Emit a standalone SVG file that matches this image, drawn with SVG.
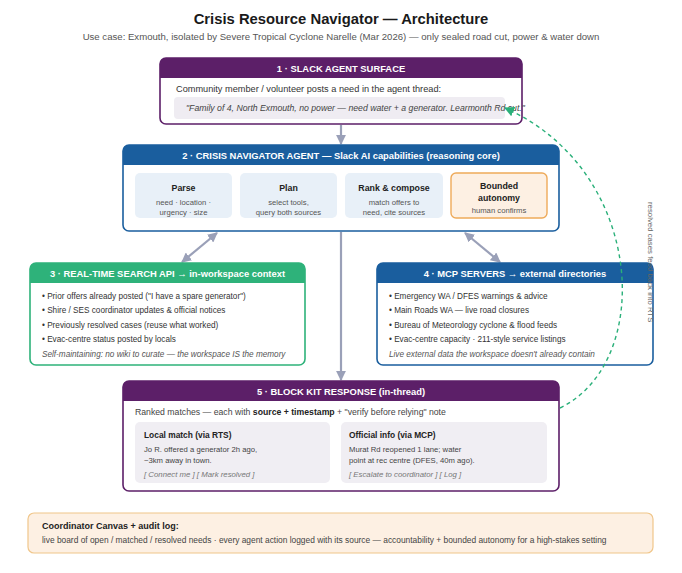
<svg xmlns="http://www.w3.org/2000/svg" width="682" height="573" viewBox="0 0 682 573">
<defs>
<style>
text{font-family:"Liberation Sans",Arial,sans-serif;}
.title{font-size:14.8px;font-weight:bold;fill:#1a1a1a;text-anchor:middle;}
.sub{font-size:9.6px;fill:#555;text-anchor:middle;}
.hdr{font-size:9.4px;font-weight:bold;fill:#fff;text-anchor:middle;}
.body{font-size:9.2px;fill:#333;}
.bul{font-size:8.2px;fill:#333;}
.note{font-size:8.2px;fill:#555;font-style:italic;}
.ct{font-size:8.8px;font-weight:bold;fill:#222;text-anchor:middle;}
.cs{font-size:7.7px;fill:#555;text-anchor:middle;}
.kt{font-size:8.4px;font-weight:bold;fill:#222;}
.ks{font-size:7.7px;fill:#444;}
.ka{font-size:7.8px;fill:#777;font-style:italic;}
.conn{stroke:#9aa0b8;stroke-width:2.2;fill:none;}
</style>
<marker id="ah" viewBox="0 0 10 10" refX="9" refY="5" markerWidth="4.5" markerHeight="4.5" orient="auto-start-reverse" markerUnits="strokeWidth">
<path d="M0,0 L10,5 L0,10 z" fill="#9aa0b8"/>
</marker>
<marker id="gh" viewBox="0 0 10 10" refX="9" refY="5" markerWidth="10" markerHeight="10" orient="auto" markerUnits="userSpaceOnUse">
<path d="M0,0 L10,5 L0,10 z" fill="#2bb07a"/>
</marker>
</defs>
<rect width="682" height="573" fill="#fff"/>
<text class="title" x="341" y="24">Crisis Resource Navigator — Architecture</text>
<text class="sub" x="341" y="40">Use case: Exmouth, isolated by Severe Tropical Cyclone Narelle (Mar 2026) — only sealed road cut, power &amp; water down</text>

<g id="connectors">
<line class="conn" x1="341" y1="125" x2="341" y2="144" marker-end="url(#ah)"/>
<line class="conn" x1="341" y1="232" x2="341" y2="380" marker-end="url(#ah)"/>
<line class="conn" x1="217" y1="233" x2="182" y2="262" marker-start="url(#ah)" marker-end="url(#ah)"/>
<line class="conn" x1="465" y1="233" x2="500" y2="262" marker-start="url(#ah)" marker-end="url(#ah)"/>
</g>

<g id="n1">
<rect x="160" y="58" width="362" height="66" rx="6" fill="#fff" stroke="#5c1f68" stroke-width="1.6"/>
<path d="M160,78 V64 a6,6 0 0 1 6,-6 H516 a6,6 0 0 1 6,6 V78 z" fill="#5c1f68"/>
<text class="hdr" x="341" y="72">1 · SLACK AGENT SURFACE</text>
<text class="body" x="176" y="92">Community member / volunteer posts a need in the agent thread:</text>
<rect x="174" y="97" width="331" height="22" rx="4" fill="#efecf2"/>
<text class="note" x="186" y="111" style="font-size:8.7px;fill:#444">"Family of 4, North Exmouth, no power — need water + a generator. Learmonth Rd cut."</text>
</g>

<g id="n2">
<rect x="123" y="145" width="436" height="86" rx="6" fill="#fff" stroke="#1a5e9e" stroke-width="1.6"/>
<path d="M123,165 V151 a6,6 0 0 1 6,-6 H553 a6,6 0 0 1 6,6 V165 z" fill="#1a5e9e"/>
<text class="hdr" x="341" y="159">2 · CRISIS NAVIGATOR AGENT — Slack AI capabilities (reasoning core)</text>
<rect x="135" y="173" width="97" height="45" rx="5" fill="#e8f0f8"/>
<text class="ct" x="183.5" y="191">Parse</text>
<text class="cs" x="183.5" y="205">need · location ·</text>
<text class="cs" x="183.5" y="215">urgency · size</text>
<rect x="240" y="173" width="97" height="45" rx="5" fill="#e8f0f8"/>
<text class="ct" x="288.5" y="191">Plan</text>
<text class="cs" x="288.5" y="205">select tools,</text>
<text class="cs" x="288.5" y="215">query both sources</text>
<rect x="345" y="173" width="98" height="45" rx="5" fill="#e8f0f8"/>
<text class="ct" x="394" y="191">Rank &amp; compose</text>
<text class="cs" x="394" y="205">match offers to</text>
<text class="cs" x="394" y="215">need, cite sources</text>
<rect x="451" y="173" width="96" height="45" rx="5" fill="#fdf0e3" stroke="#eeaa5a" stroke-width="1.4"/>
<text class="ct" x="499" y="189">Bounded</text>
<text class="ct" x="499" y="201">autonomy</text>
<text class="cs" x="499" y="213">human confirms</text>
</g>

<g id="n3">
<rect x="30" y="263" width="275" height="102" rx="6" fill="#fff" stroke="#2eb27a" stroke-width="1.6"/>
<path d="M30,283 V269 a6,6 0 0 1 6,-6 H299 a6,6 0 0 1 6,6 V283 z" fill="#2eb27a"/>
<text class="hdr" x="167.5" y="277">3 · REAL-TIME SEARCH API → in-workspace context</text>
<text class="bul" x="42" y="299">• Prior offers already posted ("I have a spare generator")</text>
<text class="bul" x="42" y="313">• Shire / SES coordinator updates &amp; official notices</text>
<text class="bul" x="42" y="328">• Previously resolved cases (reuse what worked)</text>
<text class="bul" x="42" y="342">• Evac-centre status posted by locals</text>
<text class="note" x="42" y="357">Self-maintaining: no wiki to curate — the workspace IS the memory</text>
</g>

<g id="n4">
<rect x="377" y="263" width="276" height="102" rx="6" fill="#fff" stroke="#1a5e9e" stroke-width="1.6"/>
<path d="M377,283 V269 a6,6 0 0 1 6,-6 H647 a6,6 0 0 1 6,6 V283 z" fill="#1a5e9e"/>
<text class="hdr" x="515" y="277">4 · MCP SERVERS → external directories</text>
<text class="bul" x="389" y="299">• Emergency WA / DFES warnings &amp; advice</text>
<text class="bul" x="389" y="313">• Main Roads WA — live road closures</text>
<text class="bul" x="389" y="328">• Bureau of Meteorology cyclone &amp; flood feeds</text>
<text class="bul" x="389" y="342">• Evac-centre capacity · 211-style service listings</text>
<text class="note" x="389" y="357">Live external data the workspace doesn't already contain</text>
</g>

<g id="n5">
<rect x="123" y="381" width="436" height="110" rx="6" fill="#fff" stroke="#5c1f68" stroke-width="1.6"/>
<path d="M123,401 V387 a6,6 0 0 1 6,-6 H553 a6,6 0 0 1 6,6 V401 z" fill="#5c1f68"/>
<text class="hdr" x="341" y="395">5 · BLOCK KIT RESPONSE (in-thread)</text>
<text class="body" x="135" y="415" style="fill:#444;font-size:8.7px">Ranked matches — each with <tspan font-weight="bold" fill="#222">source + timestamp</tspan> + "verify before relying" note</text>
<rect x="135" y="422" width="195" height="61" rx="5" fill="#f0eef3"/>
<text class="kt" x="144" y="438">Local match (via RTS)</text>
<text class="ks" x="144" y="452">Jo R. offered a generator 2h ago,</text>
<text class="ks" x="144" y="463">~3km away in town.</text>
<text class="ka" x="144" y="477">[ Connect me ] [ Mark resolved ]</text>
<rect x="341" y="422" width="206" height="61" rx="5" fill="#f0eef3"/>
<text class="kt" x="349" y="438">Official info (via MCP)</text>
<text class="ks" x="349" y="452">Murat Rd reopened 1 lane; water</text>
<text class="ks" x="349" y="463">point at rec centre (DFES, 40m ago).</text>
<text class="ka" x="349" y="477">[ Escalate to coordinator ] [ Log ]</text>
</g>

<g id="n6">
<rect x="28" y="513" width="625" height="40" rx="6" fill="#fdf0e3" stroke="#f0c68a" stroke-width="1.2"/>
<text class="kt" x="42" y="529" style="font-size:9px">Coordinator Canvas + audit log:</text>
<text class="ks" x="42" y="543" style="font-size:8.4px">live board of open / matched / resolved needs · every agent action logged with its source — accountability + bounded autonomy for a high-stakes setting</text>
</g>

<g id="feedback">
<path d="M560,408 C655,362 645,170 505,108" fill="none" stroke="#2bb07a" stroke-width="1.4" stroke-dasharray="4,3.5" marker-end="url(#gh)"/>
<text x="648" y="202" transform="rotate(90 648 202)" style="font-size:7.8px;fill:#666">resolved cases feed back into RTS</text>
</g>
</svg>
